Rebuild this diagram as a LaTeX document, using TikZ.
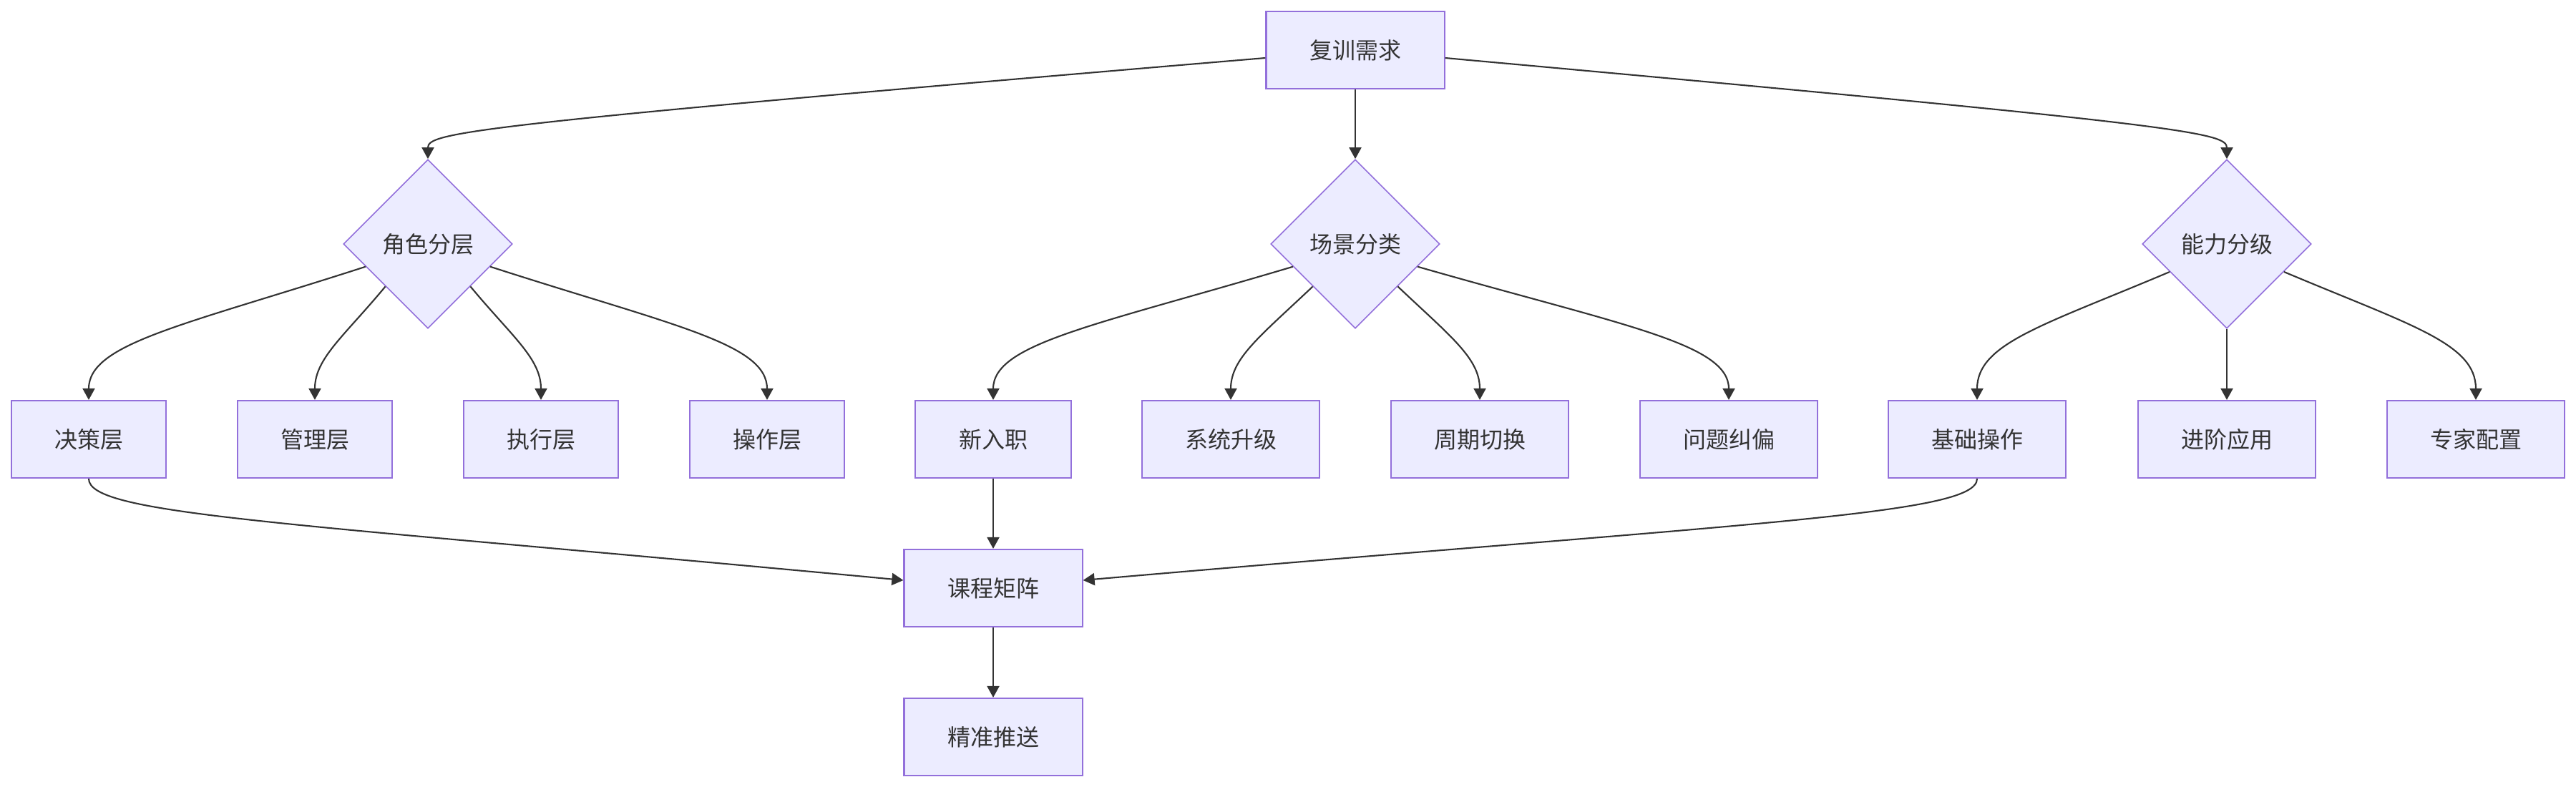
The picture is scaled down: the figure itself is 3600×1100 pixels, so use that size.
\documentclass[tikz,border=0pt]{standalone}
\usepackage{fontspec}
\setmainfont{Noto Sans CJK SC}
\usetikzlibrary{shapes.geometric,arrows.meta}
\definecolor{nodefill}{HTML}{ECECFF}
\definecolor{nodeline}{HTML}{9370DB}
\definecolor{edgecol}{HTML}{333333}
\begin{document}
\begin{tikzpicture}[x=0.01cm,y=-0.01cm,
  lbl/.style={text=edgecol,font=\fontsize{9.1}{11}\selectfont},
  box/.style={lbl,rectangle,draw=nodeline,fill=nodefill,line width=0.6pt,minimum height=1.08cm,inner sep=0pt},
  dia/.style={lbl,diamond,aspect=1,draw=nodeline,fill=nodefill,line width=0.45pt,minimum width=2.36cm,minimum height=2.36cm,inner sep=0pt},
  link/.style={draw=edgecol,line width=0.6pt,-{Triangle[length=0.16cm,width=0.17cm]}}]
\fill[white] (0,0) rectangle (3600,1100);
\useasboundingbox (0,0) rectangle (3600,1100);

% top
\node[box,minimum width=2.49cm] (A) at (1894,70) {复训需求};
% diamonds
\node[dia] (B) at (598,341) {角色分层};
\node[dia] (C) at (1894,341) {场景分类};
\node[dia] (D) at (3112,341) {能力分级};
% row
\node[box,minimum width=2.16cm] (J1) at (124,614) {决策层};
\node[box,minimum width=2.16cm] (J2) at (440,614) {管理层};
\node[box,minimum width=2.16cm] (J3) at (756,614) {执行层};
\node[box,minimum width=2.16cm] (J4) at (1072,614) {操作层};
\node[box,minimum width=2.18cm] (S1) at (1388,614) {新入职};
\node[box,minimum width=2.48cm] (S2) at (1720,614) {系统升级};
\node[box,minimum width=2.48cm] (S3) at (2068,614) {周期切换};
\node[box,minimum width=2.48cm] (S4) at (2416,614) {问题纠偏};
\node[box,minimum width=2.48cm] (N1) at (2763,614) {基础操作};
\node[box,minimum width=2.48cm] (N2) at (3112,614) {进阶应用};
\node[box,minimum width=2.48cm] (N3) at (3460,614) {专家配置};
% bottom
\node[box,minimum width=2.49cm] (K) at (1388,822) {课程矩阵};
\node[box,minimum width=2.49cm] (P) at (1388,1030) {精准推送};

% edges from top
\draw[link] (A.185) .. controls (650,175) and (598,185) .. (B.north);
\draw[link] (A.south) -- (C.north);
\draw[link] (A.355) .. controls (3060,175) and (3112,185) .. (D.north);

% B branches
\draw[link] (B.200) .. controls (256,455) and (124,480) .. (J1.north);
\draw[link] (B.south west) .. controls (480,471) and (440,501) .. (J2.north);
\draw[link] (B.south east) .. controls (716,471) and (756,501) .. (J3.north);
\draw[link] (B.340) .. controls (940,455) and (1072,480) .. (J4.north);

% C branches
\draw[link] (C.200) .. controls (1531,455) and (1388,480) .. (S1.north);
\draw[link] (C.south west) .. controls (1760,471) and (1720,501) .. (S2.north);
\draw[link] (C.south east) .. controls (2028,471) and (2068,501) .. (S3.north);
\draw[link] (C.340) .. controls (2268,455) and (2416,480) .. (S4.north);

% D branches
\draw[link] (D.206) .. controls (2855,455) and (2763,480) .. (N1.north);
\draw[link] (D.south) -- (N2.north);
\draw[link] (D.334) .. controls (3370,455) and (3460,480) .. (N3.north);

% into course matrix
\draw[link] (J1.south) .. controls (124,720) and (400,730) .. (K.175);
\draw[link] (S1.south) -- (K.north);
\draw[link] (N1.south) .. controls (2763,720) and (2450,730) .. (K.5);
\draw[link] (K.south) -- (P.north);
\end{tikzpicture}
\end{document}
